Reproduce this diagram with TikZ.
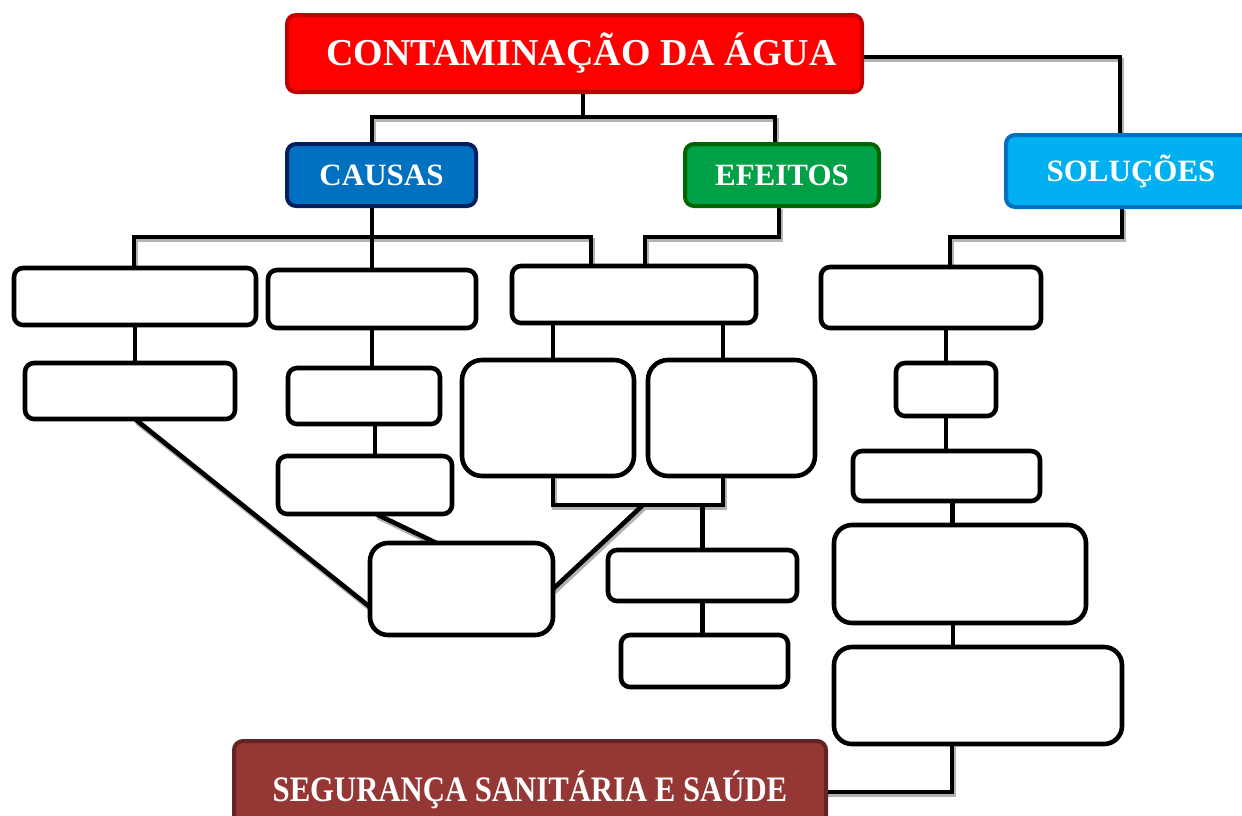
\documentclass[tikz,border=0pt]{standalone}
\usepackage{fontspec}
\setmainfont{Liberation Serif}
\usetikzlibrary{backgrounds}
\definecolor{titlered}{HTML}{FF0000}
\definecolor{titleborder}{HTML}{C00000}
\definecolor{causafill}{HTML}{0070C0}
\definecolor{causaborder}{HTML}{002060}
\definecolor{efeitofill}{HTML}{00A046}
\definecolor{efeitoborder}{HTML}{006400}
\definecolor{solfill}{HTML}{00B0F0}
\definecolor{solborder}{HTML}{0070C0}
\definecolor{segfill}{HTML}{953735}
\definecolor{segborder}{HTML}{632523}
\begin{document}
\begin{tikzpicture}[x=1pt,y=-1pt,
  sz/.style 2 args={minimum width=#1pt,minimum height=#2pt},
  wbox/.style={draw=black,line width=4.6pt,rounded corners=9pt,fill=white,inner sep=0pt,outer sep=0pt,anchor=north west},
  hbox/.style={line width=4pt,rounded corners=9pt,inner sep=0pt,outer sep=0pt,anchor=north west,text=white,font=\bfseries\fontsize{31}{34}\selectfont},
  vconn/.style={line width=4.6pt},
  conn/.style={line width=4.6pt,preaction={draw=black!30,line width=4.6pt,transform canvas={shift={(1.5pt,-3pt)}}}}]
\clip (0,0) rectangle (1242,815);
% header nodes
\node[hbox,sz={575}{77},fill=titlered,draw=titleborder,font=\bfseries\fontsize{38}{42}\selectfont] (title) at (287,15) {\hspace*{14pt}CONTAMINAÇÃO DA ÁGUA};
\node[hbox,sz={189}{62},fill=causafill,draw=causaborder] (causas) at (287,144) {CAUSAS};
\node[hbox,sz={194}{62},fill=efeitofill,draw=efeitoborder] (efeitos) at (685,144) {EFEITOS};
\node[hbox,sz={250}{72},fill=solfill,draw=solborder] (sol) at (1006,135) {SOLUÇÕES};
\node[hbox,sz={592}{98},fill=segfill,draw=segborder,font=\bfseries\fontsize{32}{36}\selectfont] (seg) at (234,741) {\scalebox{0.96}[1.12]{SEGURANÇA SANITÁRIA E SAÚDE}};
% white boxes
\node[wbox,sz={242}{57}] (a) at (14,268) {};
\node[wbox,sz={208}{58}] (b) at (268,270) {};
\node[wbox,sz={244}{57}] (c) at (512,266) {};
\node[wbox,sz={210}{56}] (a2) at (25,363) {};
\node[wbox,sz={152}{56}] (b2) at (288,368) {};
\node[wbox,sz={174}{58}] (b3) at (278,456) {};
\node[wbox,sz={172}{116},rounded corners=20pt] (c1) at (462,360) {};
\node[wbox,sz={167}{116},rounded corners=20pt] (c2) at (648,360) {};
\node[wbox,sz={183}{92},rounded corners=18pt] (e) at (370,543) {};
\node[wbox,sz={189}{51}] (d1) at (608,550) {};
\node[wbox,sz={167}{52}] (d2) at (621,635) {};
\node[wbox,sz={220}{61}] (r1) at (821,267) {};
\node[wbox,sz={100}{53}] (r2) at (896,363) {};
\node[wbox,sz={187}{50}] (r3) at (853,451) {};
\node[wbox,sz={252}{98},rounded corners=18pt] (r4) at (834,525) {};
\node[wbox,sz={288}{97},rounded corners=18pt] (r5) at (834,647) {};
% junction coordinates
\coordinate (j1) at (583,117);
\coordinate (b1l) at (372,117);
\coordinate (b1r) at (775,117);
\coordinate (s1) at (1120,57);
\coordinate (jb) at (372,237);
\coordinate (b2l) at (134,237);
\coordinate (b2r) at (591,237);
\coordinate (e1) at (779,237);
\coordinate (e2) at (645,237);
\coordinate (so1) at (1122,237);
\coordinate (so2) at (950,237);
\coordinate (cb1) at (553,505);
\coordinate (cb2) at (723,505);
\coordinate (cd) at (643,505);
\coordinate (bx) at (375,0);
\begin{scope}[on background layer]
\draw[vconn] (j1 |- title.south) -- (j1);
\draw[conn] (b1l |- causas.north) -- (b1l) -- (b1r) -- (b1r |- efeitos.north);
\draw[conn] (title.east |- s1) -- (s1) -- (s1 |- sol.north);
\draw[conn] (b2l |- a.north) -- (b2l) -- (b2r) -- (b2r |- c.north);
\draw[vconn] (jb |- causas.south) -- (jb |- b.north);
\draw[conn] (e1 |- efeitos.south) -- (e1) -- (e2) -- (e2 |- c.north);
\draw[conn] (so1 |- sol.south) -- (so1) -- (so2) -- (so2 |- r1.north);
\draw[vconn] (a.south) -- (a.south |- a2.north);
\draw[vconn] (b.south) -- (b.south |- b2.north);
\draw[vconn] (bx |- b2.south) -- (bx |- b3.north);
\draw[vconn] (cb1 |- c.south) -- (cb1 |- c1.north);
\draw[vconn] (cb2 |- c.south) -- (cb2 |- c2.north);
\draw[conn] (cb1 |- c1.south) -- (cb1) -- (cb2) -- (cb2 |- c2.south);
\draw[vconn] (d1.north |- cb1) -- (d1.north);
\draw[conn] (cd) -- (e.east);
\draw[conn] ([xshift=5pt]a2.south) -- ([yshift=-18pt]e.west);
\draw[conn] ([xshift=11pt]b3.south) -- ([xshift=-25pt]e.north);
\draw[vconn] (d1.south) -- (d1.south |- d2.north);
\draw[vconn] (r2.north |- r1.south) -- (r2.north);
\draw[vconn] (r2.south) -- (r2.south |- r3.north);
\draw[vconn] ([xshift=6pt]r3.south) -- ([xshift=6pt]r3.south |- r4.north);
\draw[vconn] ([xshift=-7pt]r4.south) -- ([xshift=-7pt]r4.south |- r5.north);
\draw[conn] ([xshift=-26pt]r5.south) |- ([yshift=-2pt]seg.east);
\end{scope}
\end{tikzpicture}
\end{document}
